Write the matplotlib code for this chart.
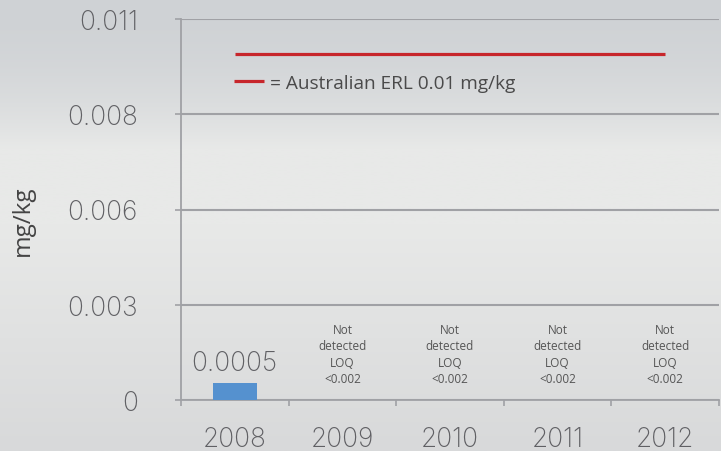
import numpy as np
import matplotlib.pyplot as plt
from matplotlib.lines import Line2D

years = ['2008', '2009', '2010', '2011', '2012']
values = [0.0005, 0.0, 0.0, 0.0, 0.0]
bar_labels = ['0.0005', '', '', '', '']
notes = ['', 'Not\ndetected\nLOQ\n<0.002', 'Not\ndetected\nLOQ\n<0.002',
         'Not\ndetected\nLOQ\n<0.002', 'Not\ndetected\nLOQ\n<0.002']
erl = [0.01, 0.01, 0.01, 0.01, 0.01]
ytick_vals = [0, 0.00275, 0.0055, 0.00825, 0.011]
ytick_labels = ['0', '0.003', '0.006', '0.008', '0.011']
legend_label = '= Australian ERL 0.01 mg/kg'

W, H = 721, 452
fig = plt.figure(figsize=(W / 100, H / 100), dpi=100)

# background gradient
bg = fig.add_axes([0, 0, 1, 1])
yy = np.linspace(0, 1, 200)
top = np.array([207, 210, 213]) / 255
mid = np.array([232, 233, 232]) / 255
bot = np.array([216, 217, 218]) / 255
cols = []
for t in yy:  # t = 0 at top
    if t < 0.33:
        c = top + (mid - top) * (t / 0.33) ** 2
    elif t < 0.5:
        c = mid
    else:
        c = mid + (bot - mid) * ((t - 0.5) / 0.5)
    cols.append(c)
img = np.array(cols)[:, None, :]
bg.imshow(img, aspect='auto', extent=[0, 1, 0, 1], origin='upper')
bg.set_axis_off()

ax = fig.add_axes([181 / W, 51 / H, (719 - 181) / W, (432 - 51) / H])
ax.set_facecolor('none')

x = np.arange(len(years))
THIN = dict(family='Inter', weight=200, size=19, color='#606064')

bars = ax.bar(x, values, width=0.41, color='#5591cf', zorder=3)
ax.bar_label(bars, labels=bar_labels, padding=5, fontfamily=THIN['family'],
             fontweight=THIN['weight'], fontsize=THIN['size'], color=THIN['color'])

ax.plot(x, erl, color='#c7262b', lw=2.3, solid_capstyle='butt', zorder=4)

for xi, n in zip(x, notes):
    if n:
        ax.text(xi, 0.00133, n, ha='center', va='center', fontsize=8.5,
                family='Open Sans', color='#555555', linespacing=1.35)

ax.set_xlim(-0.5, 4.5)
ax.set_ylim(0, 0.011)
ax.set_yticks(ytick_vals)
ax.set_yticklabels(ytick_labels)
ax.set_xticks(x)
ax.set_xticklabels(years)
for lab in ax.get_yticklabels() + ax.get_xticklabels():
    lab.set_fontfamily(THIN['family'])
    lab.set_fontweight(THIN['weight'])
    lab.set_fontsize(THIN['size'])
    lab.set_color(THIN['color'])

ax.tick_params(axis='x', length=0, pad=19)
ax.set_xticks(np.arange(-0.5, 5, 1), minor=True)
ax.tick_params(axis='x', which='minor', length=4, color='#a0a1a5', width=1.2)
ax.tick_params(axis='y', length=4, color='#a0a1a5', width=1.2, pad=27)

ax.grid(axis='y', color='#a0a1a5', lw=1.5, zorder=1)
for s in ['top', 'right']:
    ax.spines[s].set_visible(False)
for s in ['left', 'bottom']:
    ax.spines[s].set_color('#a0a1a5')
    ax.spines[s].set_linewidth(1.3)

ax.set_ylabel('mg/kg', fontsize=17.5, family='Open Sans', color='#444444')
ax.yaxis.set_label_coords(-146 / (719 - 181), (452 - 221 - 51) / (432 - 51))

handle = Line2D([], [], color='#c7262b', lw=2.3, solid_capstyle='butt')
leg = ax.legend([handle], [legend_label], loc='center left', frameon=False,
                bbox_to_anchor=(53 / (719 - 181), (452 - 84 - 51) / (432 - 51)),
                handlelength=1.6, handletextpad=0.3, borderaxespad=0, borderpad=0,
                prop=dict(family='Open Sans', size=13.7))
for t in leg.get_texts():
    t.set_color('#4a4a4a')

fig.savefig('out.png', dpi=100)
